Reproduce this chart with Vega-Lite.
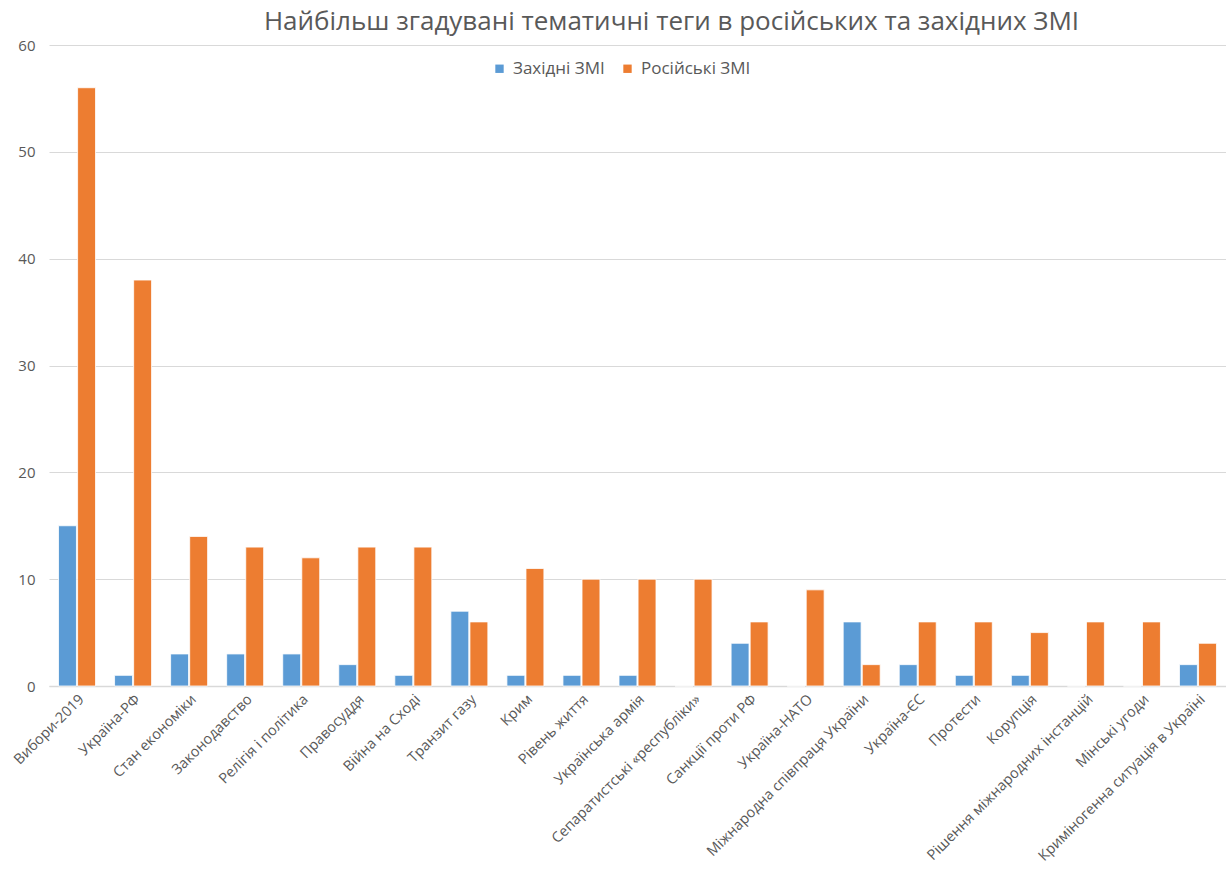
{
  "$schema": "https://vega.github.io/schema/vega-lite/v6.json",
  "autosize": {"type": "none"},
  "width": 1177,
  "height": 641,
  "padding": {"left": 49, "top": 45, "right": 0, "bottom": 183},
  "background": "white",
  "config": {
    "view": {"stroke": null},
    "font": "Open Sans",
    "axis": {"labelColor": "#595959", "labelFont": "Open Sans", "labelFontSize": 14.5, "titleColor": "#595959"},
    "legend": {"labelColor": "#595959", "labelFont": "Open Sans", "labelFontSize": 17}
  },
  "title": {
    "text": "Найбільш згадувані тематичні теги в російських та західних ЗМІ",
    "font": "Open Sans",
    "fontSize": 26,
    "fontWeight": "normal",
    "color": "#595959",
    "anchor": "middle",
    "dx": 34,
    "offset": 3
  },
  "data": {
    "values": [
      {"tag": "Вибори-2019", "series": "Західні ЗМІ", "value": 15},
      {"tag": "Вибори-2019", "series": "Російські ЗМІ", "value": 56},
      {"tag": "Україна-РФ", "series": "Західні ЗМІ", "value": 1},
      {"tag": "Україна-РФ", "series": "Російські ЗМІ", "value": 38},
      {"tag": "Стан економіки", "series": "Західні ЗМІ", "value": 3},
      {"tag": "Стан економіки", "series": "Російські ЗМІ", "value": 14},
      {"tag": "Законодавство", "series": "Західні ЗМІ", "value": 3},
      {"tag": "Законодавство", "series": "Російські ЗМІ", "value": 13},
      {"tag": "Релігія і політика", "series": "Західні ЗМІ", "value": 3},
      {"tag": "Релігія і політика", "series": "Російські ЗМІ", "value": 12},
      {"tag": "Правосуддя", "series": "Західні ЗМІ", "value": 2},
      {"tag": "Правосуддя", "series": "Російські ЗМІ", "value": 13},
      {"tag": "Війна на Сході", "series": "Західні ЗМІ", "value": 1},
      {"tag": "Війна на Сході", "series": "Російські ЗМІ", "value": 13},
      {"tag": "Транзит газу", "series": "Західні ЗМІ", "value": 7},
      {"tag": "Транзит газу", "series": "Російські ЗМІ", "value": 6},
      {"tag": "Крим", "series": "Західні ЗМІ", "value": 1},
      {"tag": "Крим", "series": "Російські ЗМІ", "value": 11},
      {"tag": "Рівень життя", "series": "Західні ЗМІ", "value": 1},
      {"tag": "Рівень життя", "series": "Російські ЗМІ", "value": 10},
      {"tag": "Українська армія", "series": "Західні ЗМІ", "value": 1},
      {"tag": "Українська армія", "series": "Російські ЗМІ", "value": 10},
      {"tag": "Сепаратистські «республіки»", "series": "Західні ЗМІ", "value": 0},
      {"tag": "Сепаратистські «республіки»", "series": "Російські ЗМІ", "value": 10},
      {"tag": "Санкції проти РФ", "series": "Західні ЗМІ", "value": 4},
      {"tag": "Санкції проти РФ", "series": "Російські ЗМІ", "value": 6},
      {"tag": "Україна-НАТО", "series": "Західні ЗМІ", "value": 0},
      {"tag": "Україна-НАТО", "series": "Російські ЗМІ", "value": 9},
      {"tag": "Міжнародна співпраця України", "series": "Західні ЗМІ", "value": 6},
      {"tag": "Міжнародна співпраця України", "series": "Російські ЗМІ", "value": 2},
      {"tag": "Україна-ЄС", "series": "Західні ЗМІ", "value": 2},
      {"tag": "Україна-ЄС", "series": "Російські ЗМІ", "value": 6},
      {"tag": "Протести", "series": "Західні ЗМІ", "value": 1},
      {"tag": "Протести", "series": "Російські ЗМІ", "value": 6},
      {"tag": "Корупція", "series": "Західні ЗМІ", "value": 1},
      {"tag": "Корупція", "series": "Російські ЗМІ", "value": 5},
      {"tag": "Рішення міжнародних інстанцій", "series": "Західні ЗМІ", "value": 0},
      {"tag": "Рішення міжнародних інстанцій", "series": "Російські ЗМІ", "value": 6},
      {"tag": "Мінські угоди", "series": "Західні ЗМІ", "value": 0},
      {"tag": "Мінські угоди", "series": "Російські ЗМІ", "value": 6},
      {"tag": "Криміногенна ситуація в Україні", "series": "Західні ЗМІ", "value": 2},
      {"tag": "Криміногенна ситуація в Україні", "series": "Російські ЗМІ", "value": 4}
    ]
  },
  "mark": {"type": "bar", "stroke": "white", "strokeWidth": 0.8},
  "encoding": {
    "x": {
      "field": "tag",
      "type": "nominal",
      "sort": null,
      "scale": {"paddingInner": 0.34, "paddingOuter": 0.17},
      "axis": {"title": null, "labelAngle": -45, "ticks": false, "domainColor": "#d9d9d9", "domainWidth": 1.5, "labelPadding": 6, "labelLimit": 400}
    },
    "xOffset": {
      "field": "series",
      "type": "nominal",
      "sort": ["Західні ЗМІ", "Російські ЗМІ"],
      "scale": {"paddingInner": 0.06}
    },
    "y": {
      "field": "value",
      "type": "quantitative",
      "scale": {"domain": [0, 60], "nice": false},
      "axis": {"title": null, "values": [0, 10, 20, 30, 40, 50, 60], "domain": false, "ticks": false, "gridColor": "#d9d9d9", "labelPadding": 14, "labelFontSize": 15}
    },
    "color": {
      "field": "series",
      "type": "nominal",
      "scale": {"domain": ["Західні ЗМІ", "Російські ЗМІ"], "range": ["#5b9bd5", "#ed7d31"]},
      "legend": {"title": null, "orient": "none", "direction": "horizontal", "legendX": 442, "legendY": 15, "symbolType": "square", "symbolSize": 70, "symbolStrokeWidth": 0, "columnPadding": 14, "labelOffset": 5}
    }
  }
}
